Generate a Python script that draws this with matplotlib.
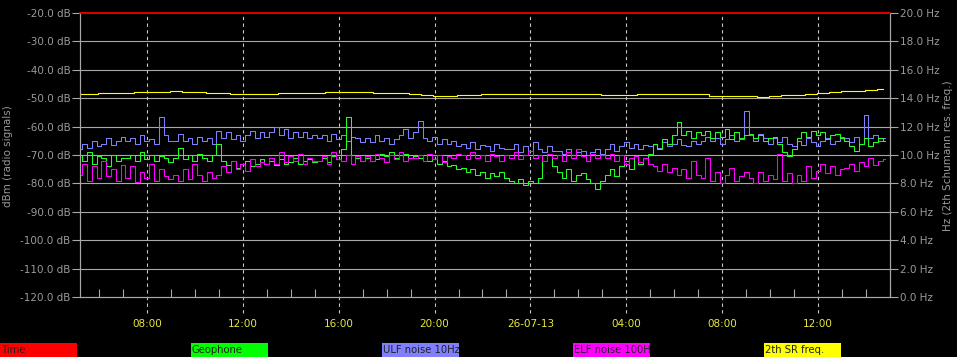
import numpy as np
import matplotlib
matplotlib.use("Agg")
import matplotlib.pyplot as plt
from matplotlib.ticker import MultipleLocator, FixedLocator, FixedFormatter, FormatStrFormatter
from matplotlib.patches import Rectangle
import matplotlib.transforms as mtransforms

# time axis: hours since 00:00 25-07-13, one sample every 12 minutes
t_start = 5.2
t_step = 0.2

# ULF noise 10Hz (dB)
ulf = [-68, -66, -67.5, -65, -67, -66, -64, -66.5, -65, -63.5,
       -65, -64, -66, -63, -65, -64.5, -66, -56.5, -63, -65,
       -65, -62.5, -65, -64, -66, -63.5, -65, -64, -66, -61.5,
       -64, -62, -64.5, -63, -65, -63, -61.5, -64, -62, -63.5,
       -62, -60, -63, -61, -64, -62, -63.5, -62, -64, -63,
       -64, -63, -65, -62.5, -64.5, -63, -65, -63.5, -64, -65.5,
       -64, -65.5, -63, -65, -64, -66, -64.5, -63, -61, -64,
       -62, -58, -64, -65, -63.5, -66, -64.5, -66, -65, -67,
       -66, -67.5, -65.5, -68, -66.5, -67, -68.5, -66, -67.5, -68,
       -68, -66, -69, -67, -68.5, -65.5, -68, -69, -67, -68.5,
       -68.5, -69.5, -68, -70, -69, -68.5, -70, -69, -68, -69.5,
       -68, -66, -68.5, -67, -65.5, -67.5, -66, -68, -66.5, -67,
       -66, -67.5, -65.5, -67, -66, -64.5, -66.5, -67, -65, -66,
       -65, -63.5, -65, -64, -66, -64.5, -63, -65, -64.5, -54.5,
       -63, -65, -62.5, -64, -66, -64, -65.5, -63.5, -66, -67,
       -65, -66.5, -64, -65.5, -67, -65, -64, -66, -65, -63.5,
       -64, -65.5, -63.5, -66, -56, -64, -63, -65, -64]

# Geophone (dB)
geophone = [-70, -72, -69, -73, -70.5, -71, -74, -70, -72, -71,
            -71, -70, -72, -69, -71.5, -70, -72, -70.5, -71, -72.5,
            -71, -67.5, -71.5, -70, -72, -69.5, -71, -72, -70, -66,
            -72, -73.5, -72, -74.5, -73, -72, -74, -73, -71.5, -73,
            -72, -73.5, -71.5, -73, -72.5, -71, -73, -72, -71.5, -72.5,
            -72, -71, -72.5, -70.5, -71.5, -68, -56.5, -70, -71, -72,
            -71, -70, -71.5, -69.5, -70.5, -69, -71, -70, -69.5, -71,
            -70.5, -71, -70, -72, -71.5, -73, -72, -74, -73.5, -75,
            -74.5, -76, -75, -77, -76, -78, -76.5, -77.5, -76, -78,
            -79, -80, -78.5, -80.5, -79, -80, -78, -72, -70, -74,
            -76, -78, -75, -79, -77, -76.5, -78.5, -80, -82, -79,
            -77, -75, -77.5, -74, -72, -75, -70, -73, -71, -69.5,
            -66, -68, -64.5, -66, -63, -58.5, -63, -61.5, -64, -62,
            -63, -61.5, -64, -62, -63.5, -61, -64.5, -62, -64, -63,
            -62.5, -64, -63, -65, -64, -63.5, -66, -69, -70.5, -68,
            -64, -62, -63.5, -61.5, -63, -62, -64.5, -63, -62.5, -64,
            -65, -67, -68.5, -66, -64, -67, -65.5, -64, -65]

# ELF noise 100Hz (dB)
elf = [-77, -73, -79, -74, -78, -72, -77.5, -75, -79, -73.5,
       -78, -74, -79.5, -76, -78, -73, -79, -75, -77.5, -78.5,
       -77, -79, -75, -78.5, -73, -77, -79, -76, -78, -77,
       -74, -76, -72, -75, -73, -75.5, -71.5, -74, -72.5, -73,
       -71, -73, -69, -72.5, -70.5, -72, -69.5, -73, -71, -72,
       -72, -70.5, -73, -69, -71.5, -72, -70, -73, -70.5, -72,
       -70.5, -72, -69.5, -71, -72.5, -70, -71.5, -69, -72, -71,
       -71, -70, -72, -69.5, -71.5, -70, -72.5, -70.5, -71, -69.5,
       -70, -71.5, -69, -71, -70, -72, -69.5, -70.5, -72, -70,
       -71, -69, -71.5, -70, -68.5, -71, -70, -72, -69.5, -71,
       -70, -72, -69, -71, -68, -70.5, -72, -69.5, -71, -70,
       -71, -69.5, -72, -70, -73, -71, -70.5, -72.5, -71, -73,
       -74, -75.5, -73, -76, -74.5, -77, -75, -78, -72, -77,
       -78, -71, -79, -76, -80, -77, -74.5, -79, -77.5, -76,
       -78, -80, -76, -79, -77, -78.5, -69.5, -79, -76.5, -80,
       -77, -79, -74, -78, -75.5, -73, -76.5, -74, -77, -75,
       -74.5, -73, -75.5, -72.5, -74, -71, -73.5, -72, -71.5]

# 2th SR frequency (Hz), one sample every 30 minutes
sr_step = 0.5
sr_freq = [14.30, 14.30, 14.34, 14.35, 14.36, 14.44, 14.46, 14.47, 14.49, 14.46,
           14.42, 14.38, 14.37, 14.33, 14.29, 14.28, 14.31, 14.35, 14.35, 14.37,
           14.40, 14.44, 14.46, 14.47, 14.45, 14.38, 14.35, 14.34, 14.28, 14.24,
           14.18, 14.19, 14.22, 14.24, 14.27, 14.28, 14.28, 14.29, 14.28, 14.33,
           14.29, 14.28, 14.28, 14.27, 14.24, 14.25, 14.24, 14.29, 14.30, 14.30,
           14.30, 14.30, 14.28, 14.18, 14.12, 14.15, 14.16, 14.10, 14.14, 14.20,
           14.25, 14.30, 14.40, 14.44, 14.50, 14.53, 14.60, 14.64]

x_ticks = [8, 12, 16, 20, 24, 28, 32, 36]
x_labels = ["08:00", "12:00", "16:00", "20:00", "26-07-13", "04:00", "08:00", "12:00"]

legend_names = ["Time", "Geophone", "ULF noise 10Hz", "ELF noise 100Hz", "2th SR freq."]
legend_colors = ["#ff0000", "#00ff00", "#8080ff", "#ff00ff", "#ffff00"]

t = t_start + t_step * np.arange(len(ulf))
t_sr = t_start + sr_step * np.arange(len(sr_freq))

W, H = 957, 357
fig = plt.figure(figsize=(W / 100, H / 100), dpi=100, facecolor="black")
ax = fig.add_axes([80 / W, (H - 297) / H, 810 / W, 284 / H], facecolor="black")
ax2 = ax.twinx()

grey = "#a8a8a8"
txt = "#9a9a9a"
plt.rcParams["font.family"] = "DejaVu Sans"

ax.set_xlim(5.21, 39.0)
ax.set_ylim(-120, -20)
ax2.set_ylim(0, 20)

# horizontal grid
for v in range(-110, -20, 10):
    ax.axhline(v, color=grey, lw=0.8, zorder=1)

# dashed vertical grid, running a bit below the axis
blend = mtransforms.blended_transform_factory(ax.transData, ax.transAxes)
for xt in x_ticks:
    ax.plot([xt, xt], [-0.055, 1], transform=blend, color="#c8c8c8", lw=0.8,
            ls=(0, (3, 3)), clip_on=False, zorder=1)

ax.plot(t, ulf, color="#8080ff", lw=0.75, drawstyle="steps-mid", zorder=3)
ax.plot(t, geophone, color="#22ff22", lw=0.75, drawstyle="steps-mid", zorder=3)
ax.plot(t, elf, color="#ff00ff", lw=0.75, drawstyle="steps-mid", zorder=3)
ax2.plot(t_sr, sr_freq, color="#ffff00", lw=0.8, drawstyle="steps-mid")

for a in (ax, ax2):
    for s in a.spines.values():
        s.set_color(grey)
        s.set_linewidth(0.8)
    a.spines["top"].set_color("#e00000")
    a.spines["top"].set_linewidth(1.1)

ax.yaxis.set_major_locator(MultipleLocator(10))
ax.yaxis.set_major_formatter(FormatStrFormatter("%.1f dB"))
ax2.yaxis.set_major_locator(MultipleLocator(2))
ax2.yaxis.set_major_formatter(FormatStrFormatter("%.1f Hz"))
ax.tick_params(axis="y", colors=grey, labelcolor=txt, length=6, width=0.8,
               labelsize=7.5, pad=1)
ax2.tick_params(axis="y", colors=grey, labelcolor=txt, length=6, width=0.8,
                labelsize=7.5, pad=1)

ax.xaxis.set_major_locator(FixedLocator(x_ticks))
ax.xaxis.set_major_formatter(FixedFormatter(x_labels))
ax.xaxis.set_minor_locator(MultipleLocator(1))
ax.tick_params(axis="x", which="major", length=0, labelcolor="#e8e840",
               labelsize=7.5, pad=16)
ax.tick_params(axis="x", which="minor", direction="in", length=6, width=0.8,
               color=grey)

fig.text(8 / W, 1 - 156 / H, "dBm (radio signals)", rotation=90, color=txt,
         fontsize=7.5, ha="center", va="center")
fig.text(948 / W, 1 - 156 / H, "Hz (2th Schumann res. freq.)", rotation=90,
         color=txt, fontsize=7.5, ha="center", va="center")

# colour-key boxes along the bottom
for i, (name, col) in enumerate(zip(legend_names, legend_colors)):
    x0 = (191 * i) / W
    r = Rectangle((x0, 0), 77 / W, 14 / H, transform=fig.transFigure,
                  facecolor=col, edgecolor="none")
    fig.patches.append(r)
    tt = fig.text(x0 + 1 / W, 7 / H, name, color="#202020", fontsize=7.2,
                  ha="left", va="center")
    tt.set_clip_path(r)

fig.savefig("out.png", dpi=100, facecolor="black")
